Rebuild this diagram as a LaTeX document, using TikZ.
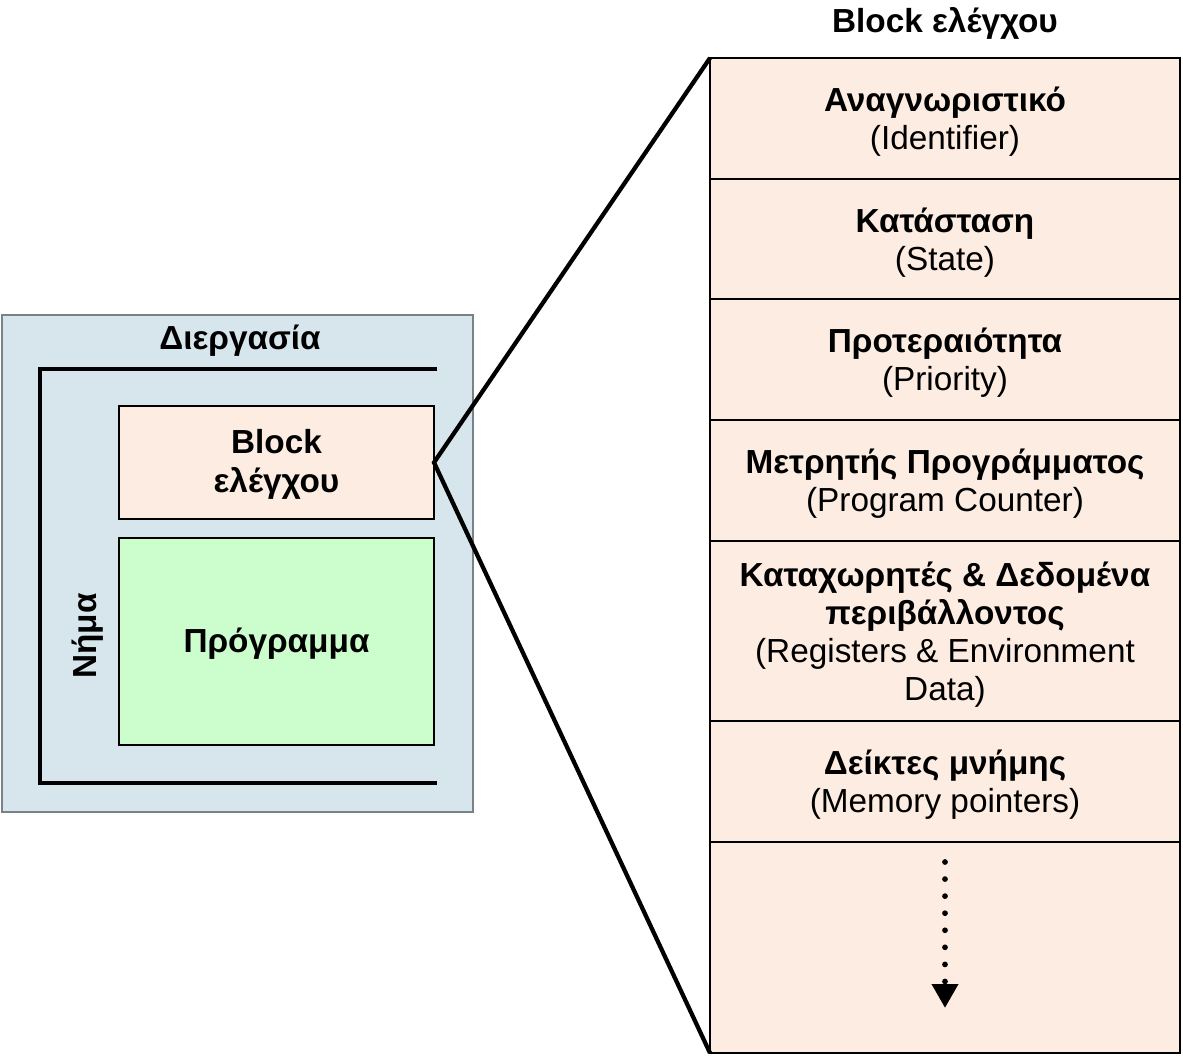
\documentclass[tikz,border=0pt]{standalone}
\usepackage{fontspec}
\setmainfont{Liberation Sans}
\usetikzlibrary{arrows.meta}

\definecolor{procfill}{RGB}{214,230,236}
\definecolor{procedge}{RGB}{120,130,135}
\definecolor{pcbfill}{RGB}{252,236,225}
\definecolor{progfill}{RGB}{204,253,204}

\tikzset{
  x=0.75pt, y=-0.75pt,
  txt/.style={font=\fontsize{25}{28.5}\selectfont, align=center, inner sep=0pt},
  pcbrow/.style={draw, line width=2.2pt, fill=pcbfill, minimum width=470*0.75pt,
    anchor=north west, inner sep=0pt, outer sep=0pt},
  rowtxt/.style={txt, yshift=-2.5pt},
  thickline/.style={line width=3.2pt},
}

\begin{document}
\begin{tikzpicture}
\useasboundingbox (0,0) rectangle (1183,1057);

% process container
\draw[procedge, line width=1.5pt, fill=procfill] (2,315) rectangle (473,812);
\node[txt] (proc) at (240,341) {\textbf{Διεργασία}};

% thread bracket
\draw[thickline] (437,369) -- (40,369) -- (40,783) -- (437,783);
\node[txt, rotate=90] (thread) at (88,636) {\textbf{Νήμα}};

% control block and program
\node[draw, line width=2pt, fill=pcbfill, minimum width=315*0.75pt, minimum height=113*0.75pt,
  anchor=north west, outer sep=0pt, inner sep=0pt] (blk) at (119,406) {};
\node[txt, yshift=-1.5pt] (blktxt) at (blk.center) {\textbf{Block}\\[1pt]\textbf{ελέγχου}};
\node[draw, line width=2pt, fill=progfill, minimum width=315*0.75pt, minimum height=207*0.75pt,
  anchor=north west, outer sep=0pt, inner sep=0pt] (prog) at (119,538) {};
\node[txt, yshift=-1.5pt] (progtxt) at (prog.center) {\textbf{Πρόγραμμα}};

% expanded control block: fields
\node[txt] (title) at (945,23) {\textbf{Block ελέγχου}};
\node[pcbrow, minimum height=121*0.75pt] (r1) at (710,58) {};
\node[pcbrow, minimum height=120*0.75pt] (r2) at (r1.south west) {};
\node[pcbrow, minimum height=121*0.75pt] (r3) at (r2.south west) {};
\node[pcbrow, minimum height=121*0.75pt] (r4) at (r3.south west) {};
\node[pcbrow, minimum height=180*0.75pt] (r5) at (r4.south west) {};
\node[pcbrow, minimum height=121*0.75pt] (r6) at (r5.south west) {};
\node[pcbrow, minimum height=211*0.75pt] (r7) at (r6.south west) {};

% field labels
\node[rowtxt] (t1) at (r1.center) {\textbf{Αναγνωριστικό}\\(Identifier)};
\node[rowtxt] (t2) at (r2.center) {\textbf{Κατάσταση}\\(State)};
\node[rowtxt] (t3) at (r3.center) {\textbf{Προτεραιότητα}\\(Priority)};
\node[rowtxt] (t4) at (r4.center) {\textbf{Μετρητής Προγράμματος}\\(Program Counter)};
\node[rowtxt] (t5) at (r5.center)
  {\textbf{Καταχωρητές \& Δεδομένα}\\\textbf{περιβάλλοντος}\\(Registers \& Environment\\Data)};
\node[rowtxt] (t6) at (r6.center) {\textbf{Δείκτες μνήμης}\\(Memory pointers)};

% continuation arrow
\coordinate (more) at (945,1008);
\draw[line width=4.3pt, line cap=round, dash pattern=on 0pt off 12.8pt,
  -{Triangle[width=19pt,length=18pt]}] ([yshift=-15pt]r7.north) -- (more);

% zoom lines
\draw[thickline] (r1.north west) -- (blk.east) -- (r7.south west);
\end{tikzpicture}
\end{document}
